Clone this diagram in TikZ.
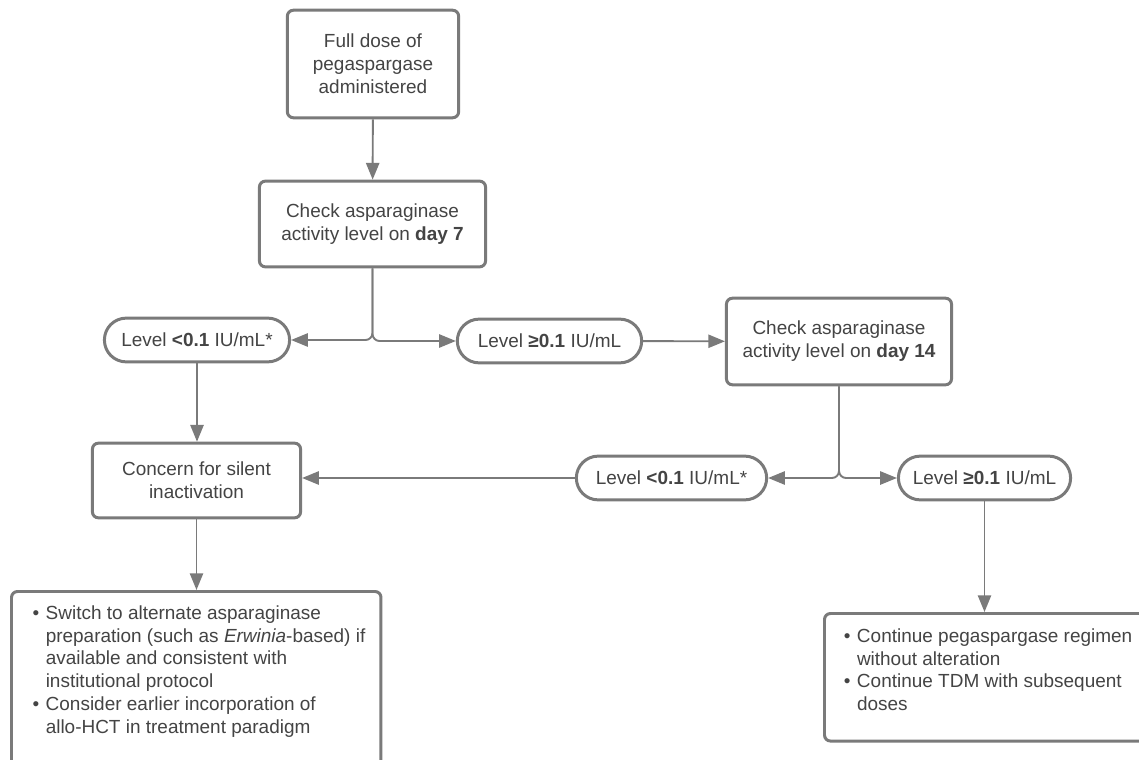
\documentclass[tikz,border=0pt]{standalone}
\usepackage{fontspec}
\setmainfont{Liberation Sans}
\usetikzlibrary{arrows.meta}
\definecolor{linec}{HTML}{7A7A7A}
\definecolor{txtc}{HTML}{444444}
\newcommand{\bitem}[1]{\par\hangindent=7.5pt\hangafter=1\noindent\makebox[7.5pt][l]{\textbullet}#1}
\begin{document}
\begin{tikzpicture}[x=0.02cm,y=-0.02cm,
  every node/.style={text=txtc,font={\fontsize{10.8}{13}\selectfont}},
  boxst/.style={draw=linec,line width=1.7pt,rounded corners=3.4pt,fill=white,align=center,inner sep=2pt},
  pill/.style={draw=linec,line width=1.7pt,rounded corners=12.4pt,fill=white,minimum height=24.9pt,inner sep=2pt},
  conn/.style={draw=linec,line width=1.1pt,-{Triangle[length=9.5pt,width=7.5pt]}},
  elbow/.style={conn,rounded corners=4pt}]
\useasboundingbox (0,0) rectangle (1139,760);
\fill[white] (0,0) rectangle (1139,760);
\node[boxst,minimum width=97.5pt,minimum height=61.2pt] (b1) at (373,64) {Full dose of\\pegaspargase\\administered};
\node[boxst,minimum width=128.7pt,minimum height=48.8pt] (b2) at (372.5,224) {Check asparaginase\\activity level on \textbf{day 7}};
\node[pill,minimum width=105.4pt] (e1) at (197,340) {Level \textbf{<0.1} IU/mL*};
\node[pill,minimum width=104.9pt] (e2) at (549.5,341) {Level \textbf{≥0.1} IU/mL};
\node[boxst,minimum width=128.1pt,minimum height=49.3pt] (b3) at (839,341.5) {Check asparaginase\\activity level on \textbf{day 14}};
\node[pill,minimum width=108.3pt] (e3) at (671.5,478) {Level \textbf{<0.1} IU/mL*};
\node[pill,minimum width=98pt] (e4) at (984.5,478) {Level \textbf{≥0.1} IU/mL};
\node[boxst,minimum width=118.5pt,minimum height=42.5pt] (b4) at (196.5,480.5) {Concern for silent\\inactivation};
\node[boxst,anchor=north west,inner sep=0pt,align=left] (b5) at (10,590) {\parbox[c][105pt][t]{210.3pt}{\vspace{8pt}\leftskip=12pt\rightskip=0pt plus 1fil
\bitem{Switch to alternate asparaginase\\preparation (such as \textit{Erwinia}-based) if\\available and consistent with\\institutional protocol}
\bitem{Consider earlier incorporation of\\allo-HCT in treatment paradigm}}};
\node[boxst,anchor=north west,inner sep=0pt,align=left] (b6) at (823,612) {\parbox[c][72.6pt][t]{190pt}{\vspace{8.5pt}\leftskip=11pt\rightskip=0pt plus 1fil
\bitem{Continue pegaspargase regimen\\without alteration}
\bitem{Continue TDM with subsequent\\doses}}};
\draw[conn] (b1) -- (b2);
\draw[elbow] (b2.south) |- (e1.east);
\draw[elbow] (b2.south) |- (e2.west);
\draw[conn] (e2) -- (b3);
\draw[elbow] (b3.south) |- (e3.east);
\draw[elbow] (b3.south) |- (e4.west);
\draw[conn] (e1.south) -- (e1.south |- b4.north);
\draw[conn] (e3.west) -- (e3.west -| b4.east);
\draw[conn] (b4.south) -- (b4.south |- b5.north);
\draw[conn] (e4.south) -- (e4.south |- b6.north);
\end{tikzpicture}
\end{document}
